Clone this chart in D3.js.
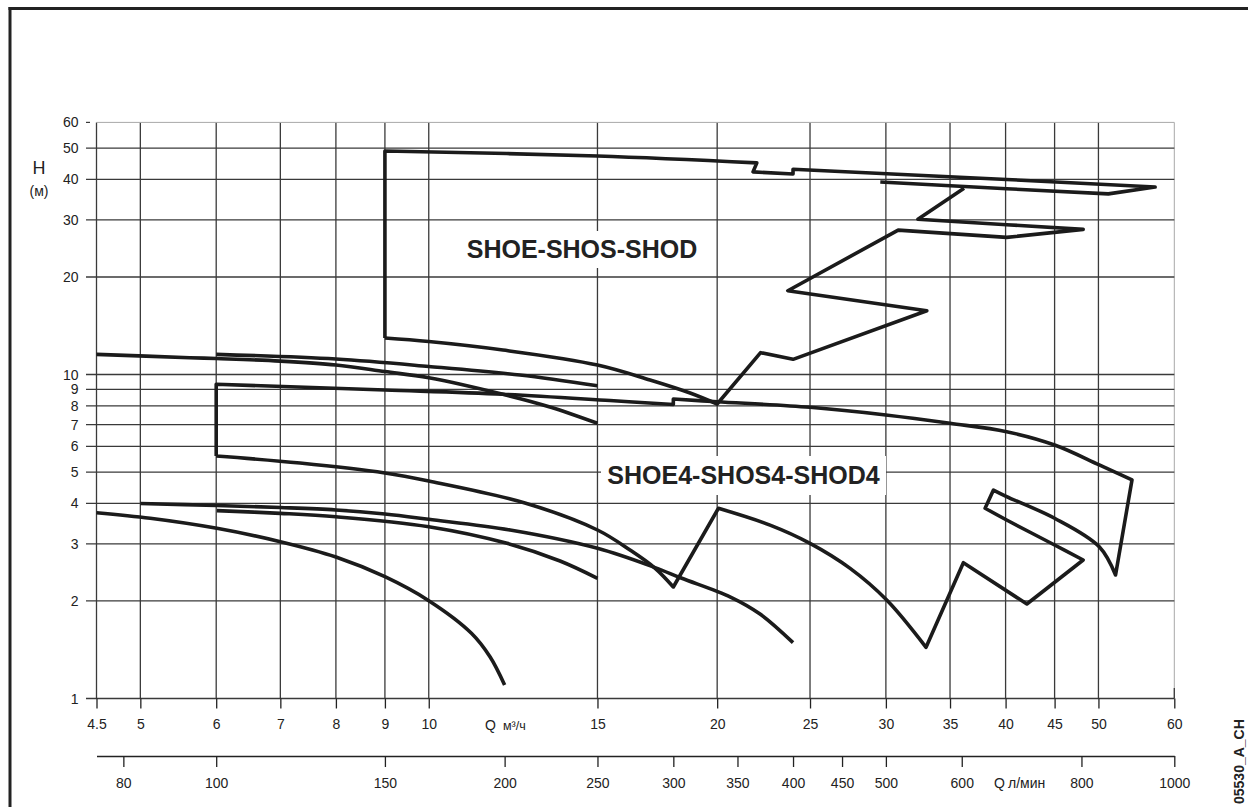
<!DOCTYPE html>
<html><head><meta charset="utf-8">
<script src="https://cdn.jsdelivr.net/npm/d3@7"></script>
<style>
html,body{margin:0;padding:0;background:#fff;}
svg{display:block;}
text{font-family:"Liberation Sans",Arial,Helvetica,sans-serif;fill:#222;}
</style></head><body>
<svg id="chart" width="1248" height="807"></svg>
<script>
// ---- tick values ----
const qTicks = [4.5,5,6,7,8,9,10,15,20,25,30,35,40,45,50,60];       // Q m3/h
const hTicks = [1,2,3,4,5,6,7,8,9,10,20,30,40,50,60];               // H m
const lminTicks = [80,100,150,200,250,300,350,400,450,500,600,800,1000]; // Q l/min

// ---- SHOE-SHOS-SHOD envelope pieces [Q m3/h, H m] ----
const shoeLeft     = [[9,12.96],[9,48.96]];
const shoeTop      = [[9,48.96],[15,47.26],[22,45.0]];
const shoeTopStep  = [[22,45.0],[21.8,42.2],[24,41.6],[24,43.0]];
const shoeTopRight = [[24,43.0],[40.1,40.0],[57.3,37.9]];
const shoeReturn   = [[57.3,37.9],[51.2,36.1],[40.1,37.45],[29.6,39.3]];
const shoeSteps    = [[36.2,37.6],[32.4,30.13],[40.1,29.0],[48.2,28.06],[40.1,26.5],[30.9,27.9],[23.7,18.14],[33.1,15.74],[24,11.14],[22.2,11.68],[20,8.11]];
const shoeLower    = [[20,8.11],[18.74,8.77],[17.02,9.62],[15,10.7],[11.95,11.9],[10,12.64],[9,12.96]];

// ---- SHOE4-SHOS4-SHOD4 envelope pieces ----
const shoe4Left     = [[6,5.603],[6,9.327]];
const shoe4Top1     = [[6,9.327],[9,8.96],[11.95,8.69],[15.46,8.31],[18,8.08]];
const shoe4Step     = [[18,8.08],[18,8.40]];
const shoe4Top2     = [[18,8.40],[20,8.24],[25,7.92],[30,7.50],[35,7.07],[40.1,6.66],[45,6.06],[50.1,5.26],[54.2,4.73]];
const shoe4Right    = [[54.2,4.73],[52.1,2.405]];
const shoe4ArcOuter = [[52.1,2.405],[50.1,2.94],[45,3.60],[40.1,4.20],[38.85,4.40]];
const shoe4ArcEnd   = [[38.85,4.40],[38.08,3.865]];
const shoe4ArcInner = [[38.08,3.865],[40.1,3.555],[45,2.977],[48.2,2.676]];
const shoe4Zig      = [[48.2,2.676],[42.1,1.957],[36.14,2.625],[33.04,1.439]];
const shoe4Mid      = [[33.04,1.439],[30.06,2.014],[27.53,2.522],[25,3.013],[22.71,3.43],[20.06,3.865]];
const shoe4V        = [[20.06,3.865],[18,2.209]];
const shoe4Lower    = [[18,2.209],[17.22,2.527],[16.22,2.873],[15,3.312],[12.6,4.013],[10,4.69],[9,4.966],[7.34,5.33],[6,5.603]];

// ---- single pump curves ----
const curveA = [[4.5,11.54],[5.63,11.27],[6,11.2],[7,11.0],[8,10.7],[9,10.21],[10,9.775],[11.95,8.69],[13.38,7.94],[15,7.07]];
const curveB = [[6,11.54],[8,11.16],[10,10.59],[12.45,9.96],[15,9.23]];
const curveG = [[5,4.0],[6.01,3.942],[7,3.886],[8,3.819],[9,3.71],[10,3.573],[12.16,3.312],[15,2.908],[17.2,2.54],[18.34,2.354],[20.65,2.057],[22.17,1.823],[24,1.487]];
const curveC = [[6.01,3.80],[7,3.728],[8,3.639],[10,3.39],[12.07,3.013],[13.71,2.657],[15,2.349]];
const curveI = [[4.5,3.745],[5.12,3.60],[6.01,3.352],[7,3.048],[8,2.734],[9,2.376],[10,2.004],[11.08,1.59],[11.59,1.343],[12,1.101]];

// ---- scales ----
const x  = d3.scaleLog().domain([4.5,60]).range([96.5,1174.3]);
const y  = d3.scaleLog().domain([1,60]).range([698.5,122.4]);
const xl = d3.scaleLog().domain([75,1000]).range([96.5,1174.3]);

const svg = d3.select('#chart');
const INK = '#1b1b1b', GRID = '#3a3a3a', LIGHT = '#a8a8a8';

// frame
svg.append('line').attr('x1',8.5).attr('x2',1248).attr('y1',8.5).attr('y2',8.5)
  .attr('stroke','#222').attr('stroke-width',3);
svg.append('line').attr('x1',10).attr('x2',10).attr('y1',7).attr('y2',807)
  .attr('stroke','#222').attr('stroke-width',3);

// grid
const grid = svg.append('g');
qTicks.forEach(q=>{
  grid.append('line').attr('x1',x(q)).attr('x2',x(q)).attr('y1',y(60)).attr('y2',y(1))
    .attr('stroke', q===60?LIGHT:GRID).attr('stroke-width', q===60?1:1.3);
});
hTicks.forEach(h=>{
  grid.append('line').attr('x1', h===60? x(4.5):86).attr('x2',x(60)).attr('y1',y(h)).attr('y2',y(h))
    .attr('stroke', h===60?LIGHT:GRID).attr('stroke-width', h===60?1:1.3);
});
grid.append('line').attr('x1',86).attr('x2',90).attr('y1',y(60)).attr('y2',y(60)).attr('stroke',GRID).attr('stroke-width',1.2);
grid.append('line').attr('x1',x(60)).attr('x2',x(60)).attr('y1',688).attr('y2',y(1)).attr('stroke',GRID).attr('stroke-width',1.3);

// y labels
const yl = svg.append('g');
hTicks.forEach(h=>{
  yl.append('text').attr('x',78.5).attr('y',y(h)).attr('dy','0.36em').attr('text-anchor','end')
    .attr('font-size',14).text(h);
});
svg.append('text').attr('x',39).attr('y',174).attr('text-anchor','middle').attr('font-size',18).text('H');
svg.append('text').attr('x',39).attr('y',196).attr('text-anchor','middle').attr('font-size',14).text('(м)');

// bottom axis Q m3/h
const ax1 = d3.axisBottom(x).tickValues(qTicks).tickFormat(d=>String(d)).tickSize(10).tickPadding(11);
const g1 = svg.append('g').attr('transform','translate(0,698.5)').call(ax1)
  .attr('font-family','"Liberation Sans",Arial,sans-serif').attr('font-size',14).attr('color','#222');
g1.select('.domain').remove();
g1.selectAll('.tick line').attr('stroke-width',1.3);
svg.append('text').attr('x',485).attr('y',730).attr('font-size',14).text('Q');
svg.append('text').attr('x',503).attr('y',730).attr('font-size',12.5).text('м³/ч');

// second axis Q l/min
const ax2 = d3.axisBottom(xl).tickValues(lminTicks).tickFormat(d=>String(d)).tickSize(11).tickSizeOuter(0).tickPadding(11);
const g2 = svg.append('g').attr('transform','translate(0,756)').call(ax2)
  .attr('font-family','"Liberation Sans",Arial,sans-serif').attr('font-size',14).attr('color','#222');
g2.select('.domain').attr('stroke-width',1.3);
g2.selectAll('.tick line').attr('stroke-width',1.3);
svg.append('text').attr('x',994).attr('y',788).attr('font-size',14).text('Q');
svg.append('text').attr('x',1008).attr('y',788).attr('font-size',14).text('л/мин');

// code label
svg.append('text').attr('transform','translate(1243.5,804) rotate(-90)')
  .attr('font-size',14).attr('font-weight','bold').text('05530_A_CH');

// titles with white background
svg.append('rect').attr('x',460).attr('y',231).attr('width',244).attr('height',37).attr('fill','#fff');
svg.append('text').attr('x',582).attr('y',258).attr('text-anchor','middle').attr('font-size',25)
  .attr('font-weight','bold').text('SHOE-SHOS-SHOD');
svg.append('rect').attr('x',601).attr('y',456).attr('width',285).attr('height',39).attr('fill','#fff');
svg.append('text').attr('x',743.5).attr('y',484).attr('text-anchor','middle').attr('font-size',25)
  .attr('font-weight','bold').text('SHOE4-SHOS4-SHOD4');

// curves
const lin = d3.line().x(d=>x(d[0])).y(d=>y(d[1])).curve(d3.curveLinear);
const smo = d3.line().x(d=>x(d[0])).y(d=>y(d[1])).curve(d3.curveCatmullRom.alpha(0.5));
function chain(pieces){
  return pieces.map((p,i)=>{
    const d = (p[1]?smo:lin)(p[0]);
    return i===0? d : 'L' + d.slice(1);
  }).join('');
}
const chains = [
  [[shoeLeft,0],[shoeTop,1],[shoeTopStep,0],[shoeTopRight,0],[shoeReturn,0]],
  [[shoeSteps,0],[shoeLower,1]],
  [[shoe4Left,0],[shoe4Top1,1],[shoe4Step,0],[shoe4Top2,1],[shoe4Right,0],[shoe4ArcOuter,1],[shoe4ArcEnd,0],
   [shoe4ArcInner,1],[shoe4Zig,0],[shoe4Mid,1],[shoe4V,0],[shoe4Lower,1]],
  [[curveA,1]],[[curveB,1]],[[curveG,1]],[[curveC,1]],[[curveI,1]]
];
const cg = svg.append('g');
chains.forEach(c=>{
  cg.append('path').attr('d',chain(c)).attr('fill','none').attr('stroke',INK)
    .attr('stroke-width',3.6).attr('stroke-linejoin','round').attr('stroke-linecap','butt');
});
</script>
</body></html>
